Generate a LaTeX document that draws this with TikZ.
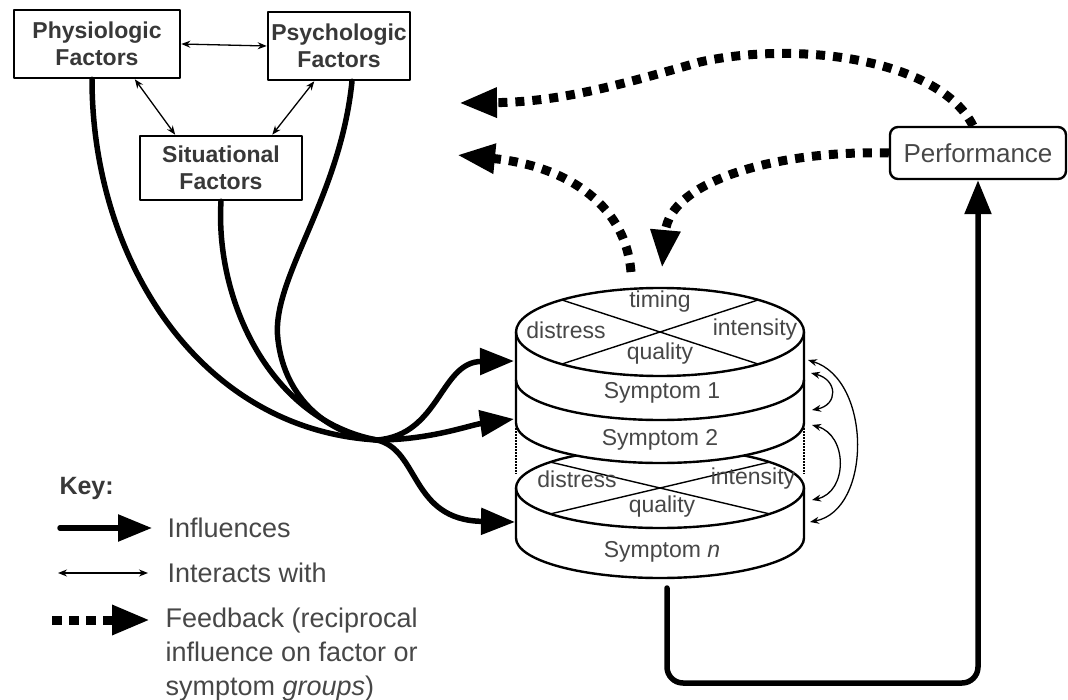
\documentclass[tikz,border=0pt]{standalone}
\usepackage{fontspec}
\setmainfont{Liberation Sans}
\usetikzlibrary{arrows.meta}
\begin{document}
\begin{tikzpicture}[x=1pt, y=-1pt, line cap=round, line join=round]
\tikzset{factor/.style={draw, line width=2.6pt, font=\bfseries\fontsize{23}{27}\selectfont, text=black!78, align=center, inner sep=0pt},
  influence/.style={line width=5.5pt, -{Triangle[length=34pt,width=26pt]}},
  interact/.style={line width=1.3pt, {Stealth[length=9pt,width=7pt]}-{Stealth[length=9pt,width=7pt]}},
  feedback/.style={line width=9pt, line cap=butt, dash pattern=on 9pt off 8pt, -{Triangle[length=38pt,width=28pt]}},
  lbl/.style={text=black!72, font=\fontsize{23}{26}\selectfont},
  keytext/.style={text=black!72, font=\fontsize{27}{34}\selectfont, anchor=west, align=left}}
\useasboundingbox (0,0) rectangle (1068,700);
\node[factor, minimum width=166pt, minimum height=68pt] (phys) at (97,44) {Physiologic\\Factors};
\node[factor, minimum width=142pt, minimum height=68pt] (psych) at (339,46) {Psychologic\\Factors};
\node[factor, minimum width=162pt, minimum height=64pt] (situ) at (221,168) {Situational\\Factors};
\node[draw, rounded corners=8pt, line width=2.4pt, minimum width=176pt, minimum height=52pt, text=black!72, font=\fontsize{26}{30}\selectfont] (perf) at (978,153) {Performance};
\draw[interact] (phys.east) -- (psych.west);
\draw[interact] (phys.-43) -- (situ.144);
\draw[interact] (psych.-125) -- (situ.33);
\coordinate (hub) at (377,440);
\coordinate (s1) at (514,361);
\coordinate (s2) at (514,419);
\coordinate (sn) at (515,522);
\draw[line width=5.5pt] ([xshift=-5pt]phys.south) .. controls (92,260) and (200,430) .. (hub);
\draw[line width=5.5pt] (situ.south) .. controls (215,300) and (270,420) .. (hub);
\draw[line width=5.5pt] ([xshift=13pt]psych.south) .. controls (340,200) and (270,280) .. (278,340) .. controls (285,400) and (330,435) .. (hub);
\draw[influence] (hub) .. controls (440,435) and (440,362) .. (s1);
\draw[influence] (hub) .. controls (430,440) and (470,425) .. (s2);
\draw[influence] (hub) .. controls (420,450) and (410,520) .. (sn);
\filldraw[fill=white, line width=2.4pt] (516,488) -- (516,538) arc[start angle=180, end angle=360, x radius=144pt, y radius=40pt] -- (804,488) arc[start angle=0, end angle=180, x radius=144pt, y radius=40pt] -- cycle;
\draw[line width=2.4pt] (516,488) arc[start angle=180, end angle=360, x radius=144pt, y radius=40pt];
\draw[line width=1.4pt] (550,462) -- (770,514) (770,462) -- (550,514);
\node[lbl] (dn) at (577,479) {distress};
\node[lbl] (in) at (753,479) {intensity};
\node[lbl] (qn) at (662,507) {quality};
\node[lbl] (symn) at (662,552) {Symptom \textit{n}};
\filldraw[fill=white, line width=2.4pt] (516,332) -- (516,423) arc[start angle=180, end angle=360, x radius=144pt, y radius=40pt] -- (804,332) arc[start angle=0, end angle=180, x radius=144pt, y radius=44pt] -- cycle;
\draw[line width=2.4pt] (516,332) arc[start angle=180, end angle=360, x radius=144pt, y radius=44pt];
\draw[line width=2.4pt] (516,380) arc[start angle=180, end angle=360, x radius=144pt, y radius=40pt];
\draw[line width=1.4pt] (562,300) -- (758,364) (758,300) -- (562,364);
\node[lbl] (tim) at (660,302) {timing};
\node[lbl] (d1) at (566,330) {distress};
\node[lbl] (i1) at (755,330) {intensity};
\node[lbl] (q1) at (660,354) {quality};
\node[lbl] (sym1) at (662,393) {Symptom 1};
\node[lbl] (sym2) at (660,440) {Symptom 2};
\draw[line width=2pt, line cap=butt, dash pattern=on 1.5pt off 1.5pt] (516,428) -- (516,474) (804,428) -- (804,474);
\coordinate (r1) at (808,360);
\coordinate (r1b) at (811,373);
\coordinate (r2) at (812,410);
\coordinate (r2b) at (812,425);
\coordinate (rn) at (812,500);
\coordinate (rnb) at (810,522);
\draw[interact] (r1) .. controls (872,380) and (872,510) .. (rnb);
\draw[interact] (r1b) .. controls (838,380) and (838,405) .. (r2);
\draw[interact] (r2b) .. controls (848,435) and (848,492) .. (rn);
\coordinate (cylbot) at (667,588);
\draw[influence, rounded corners=16pt] (cylbot) -- (667,683) -| (perf.south);
\coordinate (fbtip1) at (459,103);
\coordinate (fbtip2) at (457,155);
\coordinate (cylout) at (631,272);
\coordinate (cylin) at (662,268);
\draw[feedback] ([xshift=-5pt]perf.north) .. controls (940,60) and (800,40) .. (700,62) .. controls (620,85) and (560,102) .. (fbtip1);
\draw[feedback] (cylout) .. controls (625,200) and (560,165) .. (fbtip2);
\draw[feedback] (perf.west) .. controls (780,150) and (670,180) .. (cylin);
\node[font=\bfseries\fontsize{25}{28}\selectfont, text=black!78, anchor=west] (key) at (56,488) {Key:};
\coordinate (k1a) at (60,528);
\coordinate (k1b) at (152,528);
\coordinate (k2a) at (58,573);
\coordinate (k2b) at (148,573);
\coordinate (k3a) at (52,620);
\coordinate (k3b) at (150,620);
\draw[influence] (k1a) -- (k1b);
\draw[interact] (k2a) -- (k2b);
\draw[feedback, dash pattern=on 10pt off 7pt] (k3a) -- (k3b);
\node[keytext] (kinf) at (164,528) {Influences};
\node[keytext] (kint) at (164,573) {Interacts with};
\node[keytext, anchor=north west] (kfb) at (162,604) {Feedback (reciprocal\\influence on factor or\\symptom \textit{groups})};
\end{tikzpicture}
\end{document}
